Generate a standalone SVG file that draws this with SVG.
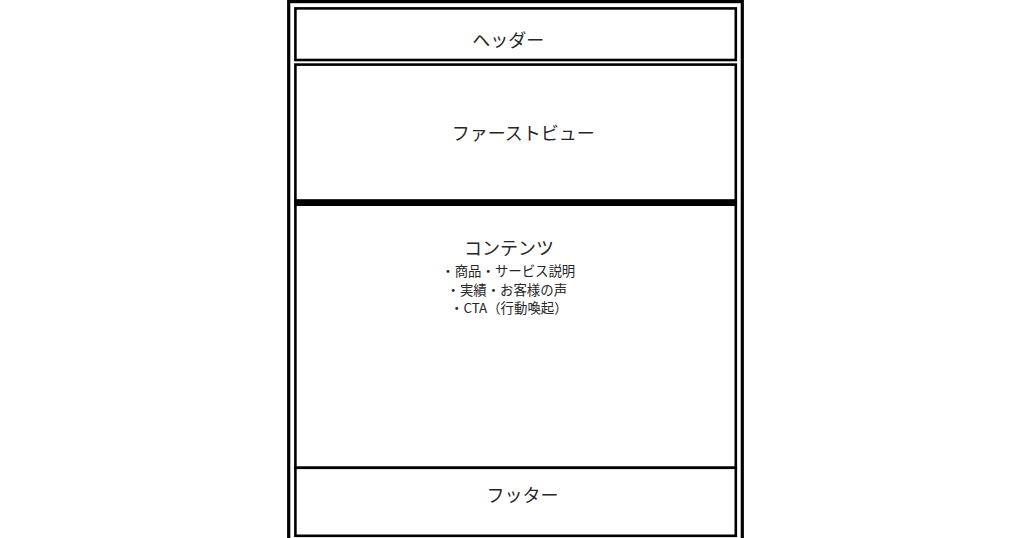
<svg xmlns="http://www.w3.org/2000/svg" width="1024" height="538" viewBox="0 0 1024 538">
<style>
.box{fill:#fff;stroke:#000;stroke-width:2.6}
.t{font-family:"Noto Sans CJK JP","Noto Sans",sans-serif;fill:#262626;text-anchor:middle}
.h{font-size:18px}
.s{font-size:13.4px}
</style>
<rect x="0" y="0" width="1024" height="538" fill="#fff"/>
<g id="frame"><rect x="288.7" y="1.6" width="453.6" height="538" fill="none" stroke="#000" stroke-width="3.2"/></g>
<g id="header"><rect class="box" x="295.4" y="8.4" width="440.4" height="51.6"/><text class="t h" x="508.3" y="46.5">ヘッダー</text></g>
<g id="firstview"><rect class="box" x="295.4" y="64.6" width="440.4" height="136.4"/><text class="t h" x="523.3" y="139.5">ファーストビュー</text></g>
<g id="contents"><rect class="box" x="295.4" y="204.6" width="440.4" height="263.2"/><line x1="294.1" y1="202.65" x2="737.1" y2="202.65" stroke="#000" stroke-width="6.7"/><text class="t h" x="509" y="254.5">コンテンツ</text><text class="t s" x="508.3" y="276">・商品・サービス説明</text><text class="t s" x="506.8" y="294.5">・実績・お客様の声</text><text class="t s" x="508.8" y="313">・CTA（行動喚起）</text></g>
<g id="footer"><rect class="box" x="295.4" y="467.8" width="440.4" height="68"/><text class="t h" x="522.5" y="501.5">フッター</text></g>
<g id="connectors"></g>
</svg>
